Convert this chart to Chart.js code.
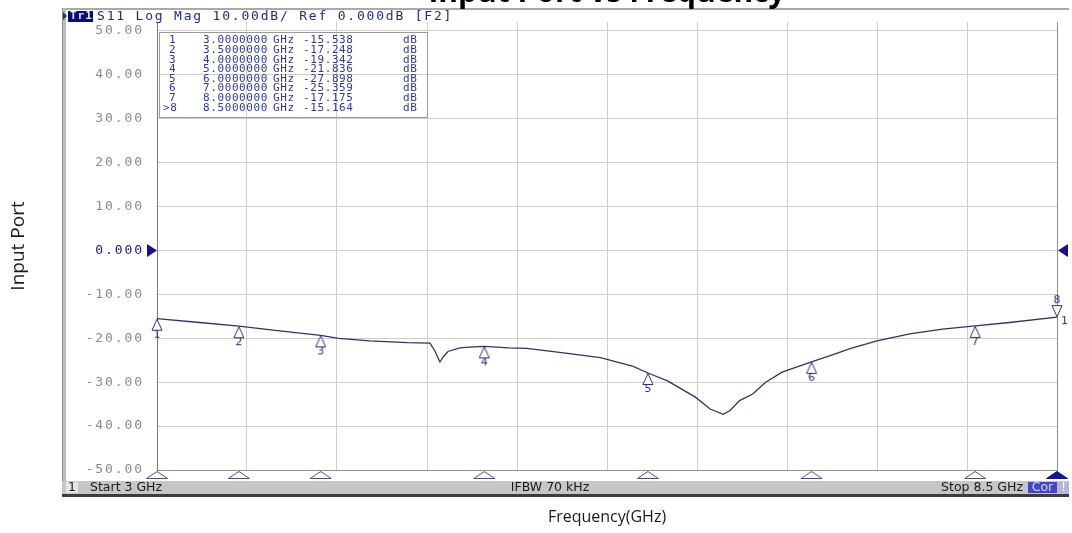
<!DOCTYPE html>
<html><head><meta charset="utf-8">
<script src="https://cdn.jsdelivr.net/npm/chart.js@4.4.1/dist/chart.umd.min.js"></script>
<style>
html,body{margin:0;padding:0;background:#fff;overflow:hidden;width:1072px;height:533px;}
#wrap{position:absolute;left:0;top:-25px;width:1072px;height:558px;}
</style></head><body>
<div id="wrap"><canvas id="c" width="1072" height="558"></canvas></div>
<script>
// ---- data ----
const freqGHz = [3.0, 3.26, 3.5, 3.75, 4.0, 4.11, 4.3, 4.53, 4.668, 4.70, 4.729, 4.75, 4.778, 4.85, 4.91, 5.0, 5.15, 5.26, 5.46, 5.71, 5.91, 6.0, 6.12, 6.29, 6.38, 6.46, 6.50, 6.56, 6.64, 6.72, 6.82, 7.0, 7.14, 7.24, 7.40, 7.60, 7.80, 8.0, 8.21, 8.5];
const s11dB   = [-15.54, -16.4, -17.25, -18.3, -19.34, -20.0, -20.6, -21.0, -21.1, -23.0, -25.4, -24.2, -23.0, -22.2, -22.0, -21.84, -22.2, -22.3, -23.2, -24.4, -26.4, -27.9, -29.7, -33.4, -36.1, -37.3, -36.5, -34.2, -32.7, -30.0, -27.7, -25.36, -23.6, -22.3, -20.6, -19.0, -17.9, -17.18, -16.4, -15.16];
const markerNum  = ['1','2','3','4','5','6','7','>8'];
const markerFreq = [3.0, 3.5, 4.0, 5.0, 6.0, 7.0, 8.0, 8.5];
const markerVal  = [-15.538, -17.248, -19.342, -21.836, -27.898, -25.359, -17.175, -15.164];
const yTicks      = [-50, -40, -30, -20, -10, 0, 10, 20, 30, 40, 50];
const yTickLabels = ['-50.00','-40.00','-30.00','-20.00','-10.00','0.000','10.00','20.00','30.00','40.00','50.00'];
const xGridGHz    = [3.0, 3.55, 4.1, 4.65, 5.2, 5.75, 6.3, 6.85, 7.4, 7.95, 8.5];
const refLevel = 0;
const chartTitle = 'Input Port vs Frequency';
const xTitle = 'Frequency(GHz)';
const yTitle = 'Input Port';
const headerTrace = 'Tr1';
const headerText = 'S11 Log Mag 10.00dB/ Ref 0.000dB [F2]';
const statusCh = '1', statusStart = 'Start 3 GHz', statusMid = 'IFBW 70 kHz', statusStop = 'Stop 8.5 GHz', statusCor = 'Cor', statusWarn = '!';

// ---- styling ----
const OFF = 25;
const NAVY = '#2a3180';
const MONO = '"DejaVu Sans Mono", monospace';

function markerGlyph(label, down, extra) {
  const c = document.createElement('canvas'); c.width = 28; c.height = 54;
  const g = c.getContext('2d'); const cx = 14, cy = 27;
  g.strokeStyle = NAVY; g.fillStyle = '#fff'; g.lineWidth = 1;
  g.beginPath();
  if (!down) { g.moveTo(cx, cy + 0.5); g.lineTo(cx - 5, cy + 11.5); g.lineTo(cx + 5, cy + 11.5); }
  else { g.moveTo(cx, cy - 0.5); g.lineTo(cx - 5, cy - 11.5); g.lineTo(cx + 5, cy - 11.5); }
  g.closePath(); g.fill(); g.stroke();
  g.fillStyle = NAVY; g.font = '11px "DejaVu Sans"'; g.textAlign = 'center';
  if (!down) { g.textBaseline = 'top'; g.fillText(label, cx, cy + 11); }
  else { g.textBaseline = 'bottom'; g.fillText(label, cx, cy - 11); }
  if (extra) { g.textAlign = 'left'; g.textBaseline = 'top'; g.fillText(extra, cx + 4, cy - 1); }
  return c;
}
function baseGlyph(filled) {
  const c = document.createElement('canvas'); c.width = 26; c.height = 22;
  const g = c.getContext('2d'); const cx = 13, cy = 11;
  g.beginPath(); g.moveTo(cx, cy + 1.5); g.lineTo(cx - 10.5, cy + 8.5); g.lineTo(cx + 10.5, cy + 8.5); g.closePath();
  g.fillStyle = filled ? '#14168a' : '#fff'; g.fill();
  g.strokeStyle = filled ? '#14168a' : '#4a4e80'; g.lineWidth = 1; g.stroke();
  return c;
}
const markerGlyphs = markerNum.map((n, i) => i === markerNum.length - 1 ? markerGlyph(n.replace('>', ''), true, '1') : markerGlyph(n, false));
const baseGlyphs = markerNum.map((n, i) => baseGlyph(i === markerNum.length - 1));

const framePlugin = {
  id: 'frame',
  beforeDraw(chart) {
    const ctx = chart.ctx; const W = chart.width, H = chart.height;
    ctx.save();
    ctx.fillStyle = '#fff'; ctx.fillRect(0, 0, W, H);
    ctx.fillStyle = '#a9a9a9'; ctx.fillRect(62, 8 + OFF, 1007, 2);
    ctx.fillStyle = '#bcbcbc'; ctx.fillRect(62, 8 + OFF, 4, 489);
    ctx.fillStyle = '#909090'; ctx.fillRect(62, 8 + OFF, 1, 489);
    ctx.fillStyle = '#c6c6c6'; ctx.fillRect(62, 481 + OFF, 1007, 13);
    ctx.fillStyle = '#3c3c3c'; ctx.fillRect(62, 494 + OFF, 1007, 3);
    ctx.restore();
  },
  afterDraw(chart) {
    const ctx = chart.ctx; const ys = chart.scales.y, xs = chart.scales.x;
    ctx.save();
    // header
    ctx.fillStyle = NAVY;
    ctx.beginPath(); ctx.moveTo(63, 12 + OFF); ctx.lineTo(67, 16 + OFF); ctx.lineTo(63, 20 + OFF); ctx.closePath(); ctx.fill();
    ctx.fillStyle = '#0c0c78'; ctx.fillRect(68, 11 + OFF, 25, 11);
    ctx.font = 'bold 11px ' + MONO; ctx.textBaseline = 'middle'; ctx.textAlign = 'left';
    ctx.fillStyle = '#e8e8ff'; ctx.letterSpacing = '1px'; ctx.fillText(headerTrace, 70, 16.5 + OFF);
    ctx.font = '13px ' + MONO; ctx.letterSpacing = '1.8px'; ctx.fillStyle = '#1f2a8c';
    ctx.fillText(headerText, 97, 16.5 + OFF);
    // marker table
    ctx.strokeStyle = '#9a9a9a'; ctx.lineWidth = 1;
    ctx.strokeRect(159.5, 32.5 + OFF, 268, 85);
    ctx.fillStyle = '#2e38a0'; ctx.font = '11px ' + MONO; ctx.letterSpacing = '0.6px';
    for (let i = 0; i < markerNum.length; i++) {
      const y = 40.5 + i * 9.6 + OFF;
      const n = markerNum[i];
      ctx.fillText(n, n.length > 1 ? 163 : 169, y);
      ctx.fillText(markerFreq[i].toFixed(7), 203, y);
      ctx.fillText('GHz', 273, y);
      ctx.fillText(markerVal[i].toFixed(3), 303, y);
      ctx.fillText('dB', 403, y);
    }
    ctx.letterSpacing = '0px';
    // reference level arrows
    const ry = ys.getPixelForValue(refLevel);
    ctx.fillStyle = '#12128a';
    ctx.beginPath(); ctx.moveTo(xs.left - 10, ry - 6.5); ctx.lineTo(xs.left, ry); ctx.lineTo(xs.left - 10, ry + 6.5); ctx.closePath(); ctx.fill();
    ctx.beginPath(); ctx.moveTo(xs.right + 11, ry - 6.5); ctx.lineTo(xs.right + 1, ry); ctx.lineTo(xs.right + 11, ry + 6.5); ctx.closePath(); ctx.fill();
    // status bar
    ctx.fillStyle = '#e4e4e4'; ctx.fillRect(66, 482 + OFF, 12, 11);
    ctx.font = '12.5px "DejaVu Sans"'; ctx.fillStyle = '#1a1a1a'; ctx.textBaseline = 'middle';
    ctx.textAlign = 'center'; ctx.fillText(statusCh, 72, 487.5 + OFF);
    ctx.textAlign = 'left'; ctx.fillText(statusStart, 90, 487.5 + OFF);
    ctx.textAlign = 'center'; ctx.fillText(statusMid, 550, 487.5 + OFF);
    ctx.textAlign = 'right'; ctx.fillText(statusStop, 1023, 487.5 + OFF);
    ctx.fillStyle = '#4646c4'; ctx.fillRect(1028, 482 + OFF, 29, 11);
    ctx.fillStyle = '#d8d8e8'; ctx.textAlign = 'center'; ctx.fillText(statusCor, 1042.5, 487.5 + OFF);
    ctx.fillStyle = '#b4b4d4'; ctx.fillRect(1058, 482 + OFF, 11, 11);
    ctx.fillStyle = '#ffffff'; ctx.fillText(statusWarn, 1063.5, 487.5 + OFF);
    ctx.restore();
  }
};

new Chart(document.getElementById('c'), {
  type: 'line',
  data: {
    datasets: [
      {
        label: 'S11',
        data: freqGHz.map((f, i) => ({ x: f, y: s11dB[i] })),
        borderColor: '#30336b', borderWidth: 1.3, pointRadius: 0, tension: 0, fill: false
      },
      {
        label: 'Markers',
        data: markerFreq.map((f, i) => ({ x: f, y: markerVal[i] })),
        showLine: false, pointStyle: markerGlyphs, pointRadius: 5, clip: false
      },
      {
        label: 'Marker positions',
        data: markerFreq.map(f => ({ x: f, y: yTicks[0] })),
        showLine: false, pointStyle: baseGlyphs, pointRadius: 5, clip: false
      }
    ]
  },
  options: {
    responsive: false, animation: false, events: [],
    layout: { padding: { left: 0, right: 15, top: 0, bottom: 0 } },
    plugins: {
      legend: { display: false }, tooltip: { enabled: false },
      title: {
        display: true, text: chartTitle, fullSize: false, color: '#000',
        font: { family: '"Open Sans"', size: 30, weight: 'bold' },
        padding: { top: 0, bottom: 11 }
      }
    },
    scales: {
      x: {
        type: 'linear', min: 3, max: 8.5,
        afterBuildTicks: s => { s.ticks = xGridGHz.map(v => ({ value: v })); },
        afterFit: s => { s.height = 63; },
        ticks: { display: false },
        grid: { color: c => (c.index === 0 || c.index === xGridGHz.length - 1) ? '#8e8e8e' : '#cdcdcd', lineWidth: 1, drawTicks: false },
        border: { display: true, color: '#8e8e8e', width: 1 },
        title: { display: true, text: xTitle, color: '#1a1a1a', font: { family: '"Open Sans"', size: 16 }, padding: { top: 0, bottom: 5.6 } }
      },
      y: {
        min: -50, max: 52.05,
        afterBuildTicks: s => { s.ticks = yTicks.map(v => ({ value: v })); },
        afterFit: s => {
          s.width = 157;
          if (!s.__ls) {
            const orig = s.drawLabels;
            s.drawLabels = function (a) { const c = this.ctx; const p = c.letterSpacing; c.letterSpacing = '1.9px'; orig.call(this, a); c.letterSpacing = p || '0px'; };
            s.__ls = true;
          }
        },
        ticks: {
          autoSkip: false, padding: 13,
          font: { family: MONO, size: 13 },
          color: c => c.tick && c.tick.value === refLevel ? '#1a2080' : '#8a8a8a',
          callback: v => yTickLabels[yTicks.indexOf(v)]
        },
        grid: { color: c => c.index === 0 ? '#8e8e8e' : '#cdcdcd', lineWidth: 1, drawTicks: false },
        border: { display: true, color: '#7a7a7a', width: 1 },
        title: { display: true, text: yTitle, color: '#1a1a1a', font: { family: '"Open Sans"', size: 19 }, padding: { top: 7.5 } }
      }
    }
  },
  plugins: [framePlugin]
});
</script>
</body></html>
